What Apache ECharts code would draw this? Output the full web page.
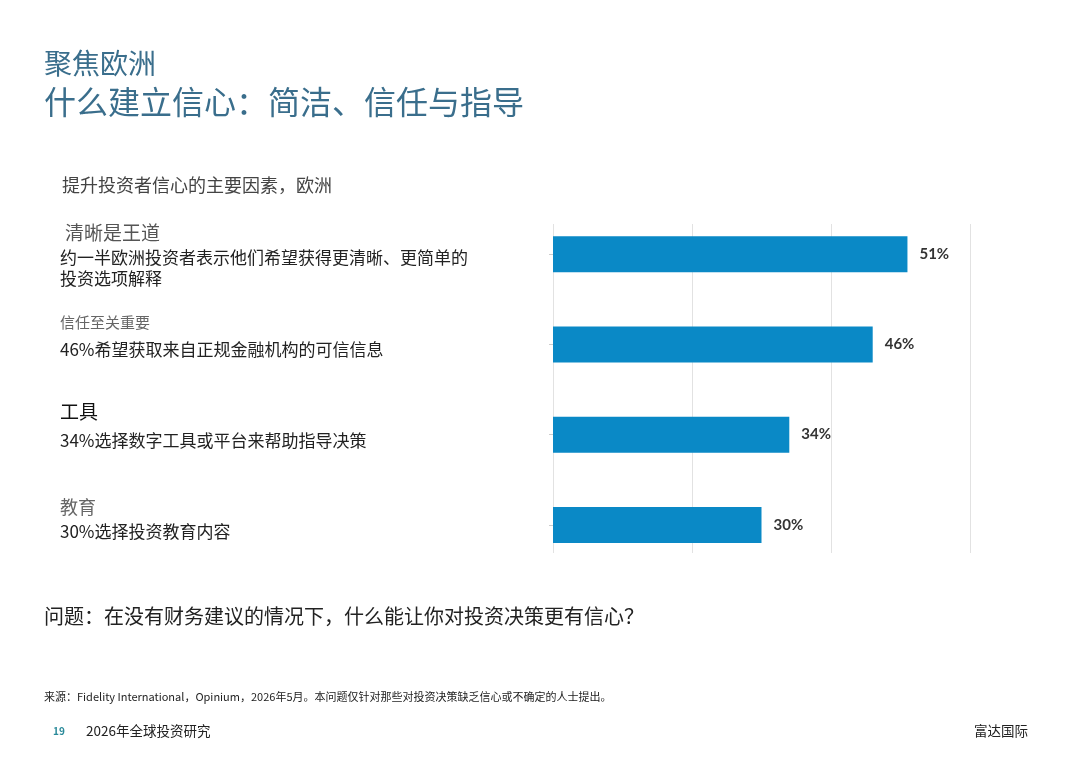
<!DOCTYPE html>
<html lang="zh">
<head>
<meta charset="UTF-8">
<title>什么建立信心</title>
<script src="https://cdn.jsdelivr.net/npm/echarts@6/dist/echarts.min.js"></script>
<style>
  html, body { margin: 0; padding: 0; background: #fff; }
  #main { width: 1080px; height: 764px; }
</style>
</head>
<body>
<div id="main"></div>
<script>
// 数据
var categories = ['清晰是王道', '信任至关重要', '工具', '教育'];
var descriptions = [
    ['约一半欧洲投资者表示他们希望获得更清晰、更简单的', '投资选项解释'],
    ['46%希望获取来自正规金融机构的可信信息'],
    ['34%选择数字工具或平台来帮助指导决策'],
    ['30%选择投资教育内容']
];
var values = [51, 46, 34, 30];
var axisTicks = [0, 20, 40, 60];

var FONT = '"Noto Sans CJK SC", "Noto Sans", sans-serif';

// 左侧文字的位置和样式
var headStyle = [
    { y: 233, size: 19, color: '#555' },
    { y: 322, size: 15, color: '#666' },
    { y: 412, size: 19, color: '#111' },
    { y: 507, size: 18, color: '#666' }
];
var descY = [[258, 279], [350], [441], [532]];

// y 是文字的垂直中心
function txt(text, x, y, size, color, extra) {
    return {
        type: 'text', left: x, top: y - size * 0.5,
        style: { text: text, font: (extra || '') + ' ' + size + 'px ' + FONT, fill: color }
    };
}

var graphics = [
    txt('聚焦欧洲', 44, 63, 28, '#3a6e8c'),
    txt('什么建立信心：简洁、信任与指导', 44, 102, 32, '#3a6e8c'),
    txt('提升投资者信心的主要因素，欧洲', 62, 185, 18, '#444'),
    txt('问题：在没有财务建议的情况下，什么能让你对投资决策更有信心？', 44, 616, 20, '#222'),
    txt('来源：Fidelity International，Opinium，2026年5月。本问题仅针对那些对投资决策缺乏信心或不确定的人士提出。', 44, 697, 11, '#222'),
    txt('19', 53, 731, 10, '#2a8a9a', 'bold'),
    txt('2026年全球投资研究', 86, 731, 13.5, '#222'),
    { type: 'text', right: 52, top: 731 - 13.5 * 0.5,
      style: { text: '富达国际', font: '13.5px ' + FONT, fill: '#222' } }
];
categories.forEach(function (c, i) {
    var h = headStyle[i];
    graphics.push(txt(c, i === 0 ? 65 : 60, h.y, h.size, h.color));
    descriptions[i].forEach(function (d, j) {
        graphics.push(txt(d, 60, descY[i][j], 17, '#222'));
    });
});

var chart = echarts.init(document.getElementById('main'));
chart.setOption({
    backgroundColor: '#fff',
    animation: false,
    graphic: graphics,
    grid: [
        // 网格线
        { left: 553, top: 224, width: 417, height: 329 },
        // 柱子
        { left: 553, top: 209, width: 417, height: 361 }
    ],
    xAxis: [
        {
            gridIndex: 0, type: 'value', min: axisTicks[0], max: axisTicks[axisTicks.length - 1],
            interval: axisTicks[1] - axisTicks[0],
            axisLabel: { show: false }, axisLine: { show: false }, axisTick: { show: false },
            splitLine: { lineStyle: { color: '#e2e2e2', width: 1 } }
        },
        {
            gridIndex: 1, type: 'value', min: axisTicks[0], max: axisTicks[axisTicks.length - 1],
            show: false
        }
    ],
    yAxis: [
        { gridIndex: 0, type: 'category', data: [''], show: false },
        {
            gridIndex: 1, type: 'category', data: categories, inverse: true,
            axisLine: { show: false },
            axisTick: { show: true, alignWithLabel: true, length: 4, lineStyle: { color: '#ccc' } },
            axisLabel: { show: false }
        }
    ],
    series: [{
        type: 'bar',
        xAxisIndex: 1,
        yAxisIndex: 1,
        data: values,
        barWidth: 36,
        itemStyle: { color: '#0a89c6' },
        label: {
            show: true,
            position: 'right',
            distance: 12,
            formatter: '{c}%',
            color: '#333',
            fontSize: 15,
            fontWeight: 'bold',
            fontFamily: 'Lato, "Noto Sans", sans-serif'
        }
    }]
});
</script>
</body>
</html>
